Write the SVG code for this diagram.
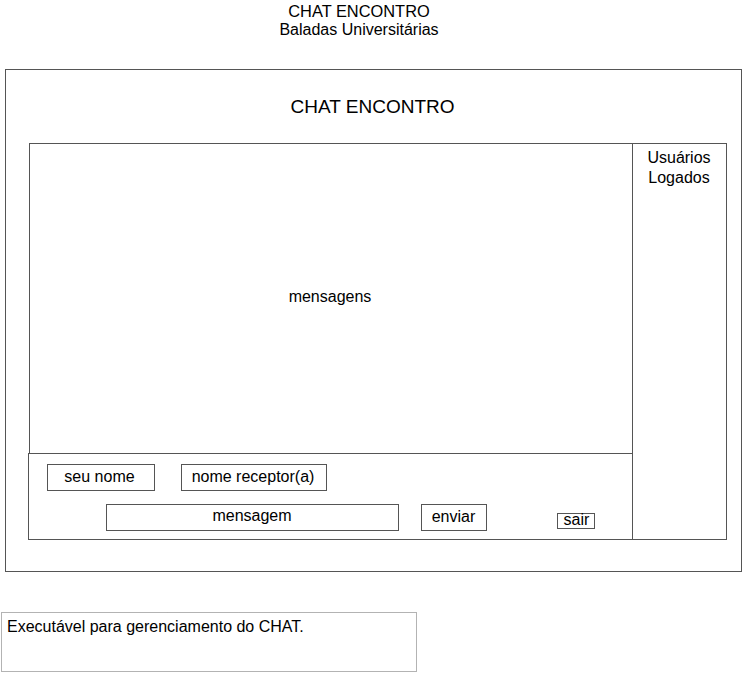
<svg xmlns="http://www.w3.org/2000/svg" width="743" height="673" viewBox="0 0 743 673">
<style>
.b{fill:#fff;stroke:#555;stroke-width:1}
.t{font-family:"Liberation Sans",Arial,sans-serif;fill:#000;text-anchor:middle;font-size:16px}
</style>
<rect width="743" height="673" fill="#fff"/>
<g id="title">
<text class="t" x="359" y="17" style="font-size:16.4px">CHAT ENCONTRO</text>
<text class="t" x="359" y="35">Baladas Universitárias</text>
</g>
<g id="window">
<rect class="b" x="5.5" y="69.5" width="736" height="502"/>
<text class="t" x="372.5" y="113" style="font-size:19px">CHAT ENCONTRO</text>
</g>
<g id="mensagens">
<rect class="b" x="29.5" y="143.5" width="603" height="310"/>
<text class="t" x="330" y="302">mensagens</text>
</g>
<g id="usuarios">
<rect class="b" x="632.5" y="143.5" width="94" height="396"/>
<text class="t" x="679" y="163">Usuários</text>
<text class="t" x="679" y="183">Logados</text>
</g>
<g id="painel">
<rect class="b" x="28.5" y="453.5" width="604" height="86"/>
</g>
<g id="seu-nome">
<rect class="b" x="47.5" y="464.5" width="107" height="26"/>
<text class="t" x="99.5" y="482">seu nome</text>
</g>
<g id="nome-receptor">
<rect class="b" x="181.5" y="464.5" width="145" height="26"/>
<text class="t" x="253" y="482">nome receptor(a)</text>
</g>
<g id="mensagem">
<rect class="b" x="106.5" y="504.5" width="292" height="26"/>
<text class="t" x="252" y="521">mensagem</text>
</g>
<g id="enviar">
<rect class="b" x="421.5" y="504.5" width="65" height="26"/>
<text class="t" x="453.5" y="522">enviar</text>
</g>
<g id="sair">
<rect class="b" x="557.5" y="513.5" width="37" height="15"/>
<text class="t" x="576.5" y="525">sair</text>
</g>
<g id="nota">
<rect x="1.5" y="612.5" width="415" height="59" fill="#fff" stroke="#666" stroke-width="1" stroke-dasharray="1,1"/>
<text x="7" y="632" font-size="16" font-family="Liberation Sans,Arial,sans-serif">Executável para gerenciamento do CHAT.</text>
</g>
<g id="connectors"/>
</svg>
